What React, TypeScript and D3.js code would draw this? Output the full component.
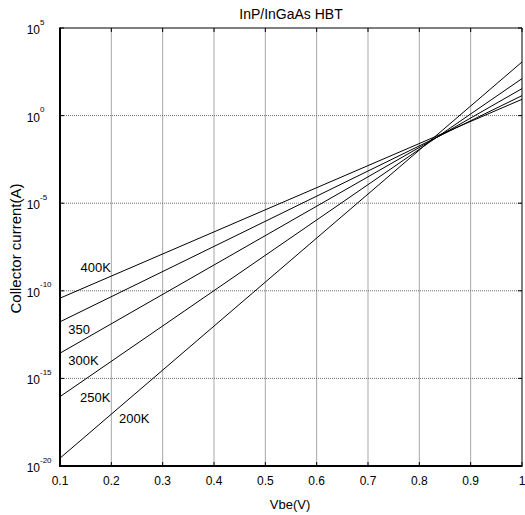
import React from 'react';
import * as d3 from 'd3';

// Series: collector current vs Vbe at several temperatures (straight lines on log scale)
const seriesNames = ['400K', '350K', '300K', '250K', '200K'];
const vbeValues = [0.1, 1.0];
const current400K = [3.8e-11, 8.5];
const current350K = [1.7e-12, 13.8];
const current300K = [2.75e-14, 34.7];
const current250K = [9.1e-17, 129];
const current200K = [2.8e-20, 1150];
const seriesCurrents = [current400K, current350K, current300K, current250K, current200K];

// Annotation labels (in data units)
const labelTexts = ['400K', '350', '300K', '250K', '200K'];
const labelVbe = [0.14, 0.116, 0.116, 0.139, 0.215];
const labelCurrent = [1.17e-9, 3.4e-13, 5.5e-15, 4.5e-17, 2.8e-18];

// Axis ticks
const xTicks = [0.1, 0.2, 0.3, 0.4, 0.5, 0.6, 0.7, 0.8, 0.9, 1];
const xTickLabels = ['0.1', '0.2', '0.3', '0.4', '0.5', '0.6', '0.7', '0.8', '0.9', '1'];
const yTickExponents = [-20, -15, -10, -5, 0, 5];

const title = 'InP/InGaAs HBT';
const xLabel = 'Vbe(V)';
const yLabel = 'Collector current(A)';

const W = 525, H = 515;
const L = 60, R = 522, T = 28, B = 466;
const FONT = 'Arial, "Liberation Sans", Helvetica, sans-serif';

export default function App() {
  const x = d3.scaleLinear().domain([0.1, 1]).range([L, R]);
  const y = d3.scaleLog().domain([1e-20, 1e5]).range([B, T]);
  const line = d3.line<[number, number]>().x(d => x(d[0])).y(d => y(d[1]));

  return (
    <svg width={W} height={H} style={{ position: 'absolute', left: 0, top: 0, background: '#fff' }}
      fontFamily={FONT}>
      <rect x={0} y={0} width={W} height={H} fill="#fff" />
      {/* vertical grid */}
      {xTicks.slice(1, -1).map((t, i) => (
        <line key={'vg' + i} x1={x(t)} x2={x(t)} y1={T} y2={B} stroke="#a8a8a8" strokeWidth={1} />
      ))}
      {/* horizontal grid */}
      {yTickExponents.slice(1, -1).map((e, i) => (
        <line key={'hg' + i} x1={L} x2={R} y1={y(Math.pow(10, e))} y2={y(Math.pow(10, e))}
          stroke="#707070" strokeWidth={1} strokeDasharray="1,1" />
      ))}
      {/* tick marks */}
      {xTicks.map((t, i) => (
        <g key={'xt' + i} stroke="#000" strokeWidth={1}>
          <line x1={x(t)} x2={x(t)} y1={B} y2={B - 4} />
          <line x1={x(t)} x2={x(t)} y1={T} y2={T + 4} />
        </g>
      ))}
      {yTickExponents.map((e, i) => (
        <g key={'yt' + i} stroke="#000" strokeWidth={1}>
          <line x1={L} x2={L + 4} y1={y(Math.pow(10, e))} y2={y(Math.pow(10, e))} />
          <line x1={R} x2={R - 4} y1={y(Math.pow(10, e))} y2={y(Math.pow(10, e))} />
        </g>
      ))}
      {/* data lines */}
      {seriesCurrents.map((vals, i) => (
        <path key={seriesNames[i]}
          d={line(vbeValues.map((v, j) => [v, vals[j]] as [number, number])) || ''}
          fill="none" stroke="#000" strokeWidth={1} />
      ))}
      {/* labels */}
      {labelTexts.map((t, i) => (
        <text key={'lb' + i} x={x(labelVbe[i])} y={y(labelCurrent[i])} fontSize={13} fill="#000">{t}</text>
      ))}
      {/* axes box */}
      <line x1={L} x2={R} y1={T} y2={T} stroke="#000" strokeWidth={1} />
      <line x1={R} x2={R} y1={T} y2={B} stroke="#000" strokeWidth={1} />
      <line x1={L} x2={L} y1={T - 0.5} y2={B + 1} stroke="#000" strokeWidth={2} />
      <line x1={L - 1} x2={R + 0.5} y1={B} y2={B} stroke="#000" strokeWidth={2} />
      {/* x tick labels */}
      {xTicks.map((t, i) => (
        <text key={'xl' + i} x={x(t)} y={485} fontSize={12} textAnchor="middle" fill="#000">{xTickLabels[i]}</text>
      ))}
      {/* y tick labels */}
      {yTickExponents.map((e, i) => {
        const yy = y(Math.pow(10, e));
        return (
          <g key={'yl' + i} fill="#000">
            <text x={40} y={yy + 6} fontSize={12} textAnchor="end">10</text>
            <text x={40} y={yy - 3.5} fontSize={8}>{String(e)}</text>
          </g>
        );
      })}
      {/* titles */}
      <text x={(L + R) / 2} y={19} fontSize={14} textAnchor="middle" fill="#000">{title}</text>
      <text x={290} y={509} fontSize={13} textAnchor="middle" fill="#000">{xLabel}</text>
      <text transform={`translate(21, ${248.5}) rotate(-90)`} fontSize={15} textAnchor="middle" fill="#000">{yLabel}</text>
    </svg>
  );
}
